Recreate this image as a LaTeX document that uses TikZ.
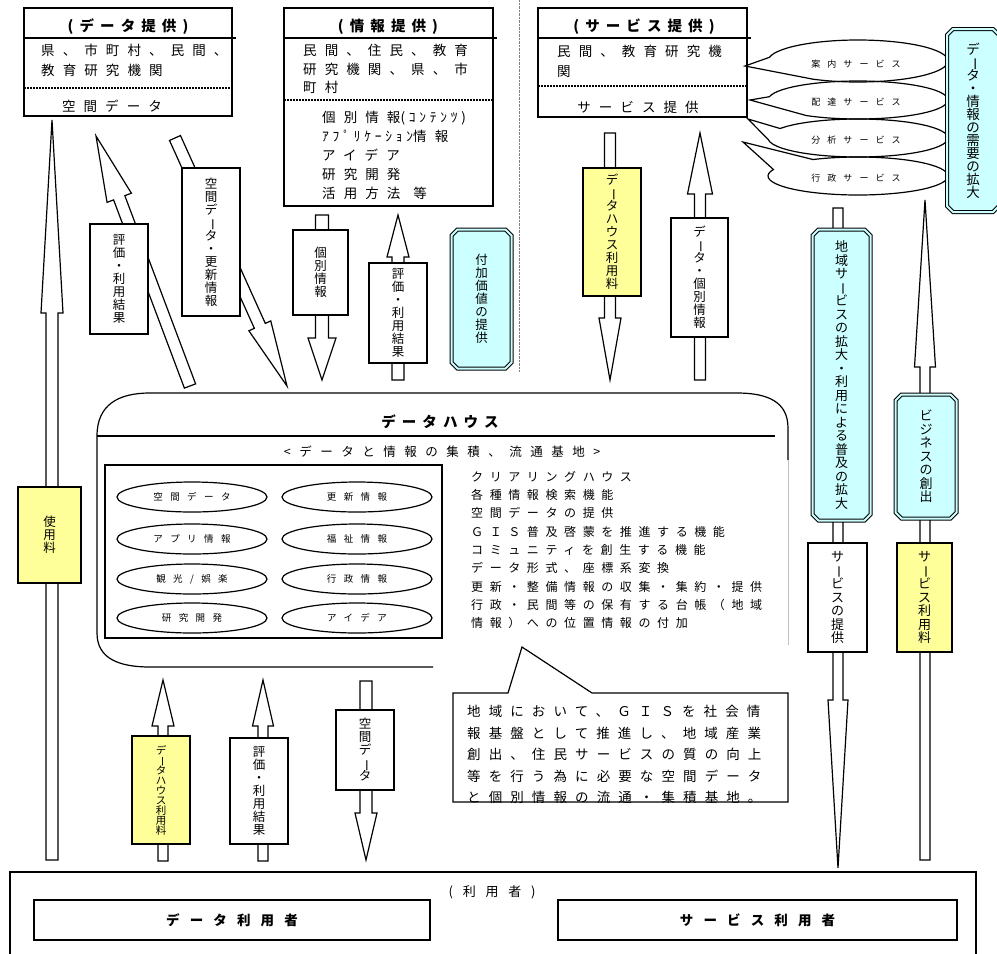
\documentclass[tikz,border=0pt]{standalone}
\usepackage{fontspec}
\usepackage{graphicx}
\usetikzlibrary{calc, shapes.geometric, shapes.misc}
\setmainfont{Noto Sans CJK JP}
\newfontfamily\jpplain{Noto Sans CJK JP}
\newfontfamily\jpwide[LetterSpace=60]{Noto Sans CJK JP}
\newfontfamily\jphalf[LetterSpace=28]{Noto Sans CJK JP}
\newfontfamily\jplist[LetterSpace=55]{Noto Sans CJK JP}
\newfontfamily\jpsub[LetterSpace=68]{Noto Sans CJK JP}
\newfontfamily\jpsmall[LetterSpace=78]{Noto Sans CJK JP}
\newfontfamily\jptitle[LetterSpace=42]{Noto Sans CJK JP}
\newfontfamily\jpuser[LetterSpace=75]{Noto Sans CJK JP}
\definecolor{plancyan}{HTML}{CCFFFF}
\definecolor{planyellow}{HTML}{FFFF99}
\newcommand\vbar{\rotatebox[origin=c]{-90}{ー}}
\newcommand\tightlines{\lineskiplimit=-100pt\lineskip=0pt}
% hollow block arrow: tail, tip, shaft half width, head half width, head length
\newcommand\blockarrow[5]{%
  \path ($(#2)!#5!(#1)$) coordinate (hb);
  \draw[blockarr] (#2) -- ($(hb)!#4!90:(#2)$) -- ($(hb)!#3!90:(#2)$)
    -- ($(#1)!#3!90:(#2)$) -- ($(#1)!#3!-90:(#2)$)
    -- ($(hb)!#3!-90:(#2)$) -- ($(hb)!#4!-90:(#2)$) -- cycle;}

\begin{document}
\begin{tikzpicture}[x=1pt, y=-1pt,
    provbox/.style={draw, line width=1.2pt, inner sep=0pt},
    titletext/.style={font=\jptitle\bfseries\fontsize{14.5}{16}\selectfont, inner sep=0pt},
    bodytext/.style={font=\jpwide\fontsize{13.5}{20}\selectfont\tightlines,
                     align=left, inner sep=0pt, anchor=north west},
    divider/.style={line width=1.2pt},
    dotline/.style={line width=2pt, dash pattern=on 2pt off 1pt},
    labelbox/.style={draw, line width=1.2pt, fill=white, inner sep=0pt, align=center,
                     font=\jpplain\fontsize{12.5}{13}\selectfont\tightlines},
    feebox/.style={labelbox, fill=planyellow},
    cyanbox/.style={labelbox, chamfered rectangle, chamfered rectangle xsep=3pt,
                    chamfered rectangle ysep=3pt, fill=plancyan, double=plancyan,
                    double distance=2pt, line width=1pt},
    blockarr/.style={draw, fill=white, line width=1.2pt},
    houseline/.style={line width=1.2pt},
    houseitem/.style={ellipse, draw, line width=1.2pt, minimum width=150pt,
                      minimum height=30pt, inner sep=0pt,
                      font=\jpsmall\fontsize{9.5}{10}\selectfont},
    cloud/.style={line width=1.2pt},
    cloudtext/.style={font=\jpsmall\fontsize{9}{10}\selectfont, inner sep=0pt},
    userbox/.style={draw, line width=1.2pt, minimum height=40pt, inner sep=0pt,
                    font=\jpuser\bfseries\fontsize{13.5}{15}\selectfont}
  ]
  \useasboundingbox (0,0) rectangle (997,954);
  \clip (0,0) rectangle (997,954);

  % providers
  \node[provbox, minimum width=208pt, minimum height=108pt] (dataprov) at (128,62) {};
  \node[provbox, minimum width=209pt, minimum height=198pt] (infoprov) at (388.5,107) {};
  \node[provbox, minimum width=209pt, minimum height=109pt] (servprov) at (642.5,62.5) {};
  \draw[divider] (24,38) -- (236,38);
  \draw[divider] (284,38) -- (497,38);
  \draw[divider] (538,38) -- (751,38);
  \node[titletext] (dataprovT) at (128,27) {(データ提供)};
  \node[titletext] (infoprovT) at (388,27) {(情報提供)};
  \node[titletext] (servprovT) at (644,27) {(サービス提供)};

  \node[bodytext] (dataprovA) at (41,44) {県、市町村、民間、\\教育研究機関};
  \draw[dotline] (24,88) -- (232,88);
  \node[bodytext, anchor=center] (dataprovB) at (112,106) {空間データ};

  \node[bodytext, font=\jpwide\fontsize{13.5}{18.7}\selectfont\tightlines] (infoprovA)
    at (303,44) {民間、住民、教育\\研究機関、県、市\\町村};
  \draw[dotline] (284,100) -- (493,100);
  \node[bodytext, font=\jpwide\fontsize{13.5}{19}\selectfont\tightlines] (infoprovB)
    at (322,111) {個別情報{\jphalf(ｺﾝﾃﾝﾂ)}\\{\jphalf ｱﾌﾟﾘｹｰｼｮﾝ}情報\\アイデア\\研究開発\\
    活用方法\hspace{13pt}等};

  \node[bodytext] (servprovA) at (557,45) {民間、教育研究機\\関};
  \draw[dotline] (538,86) -- (747,86);
  \node[bodytext, anchor=center] (servprovB) at (638,107) {サービス提供};

  \draw[gray, densely dotted] (519,0) -- (519,372);

  % service clouds
  \coordinate (guideTip) at (745,66);
  \coordinate (deliverTip) at (750,100);
  \coordinate (analyTip) at (748,119);
  \coordinate (adminTip) at (743,142);
  \draw[cloud] (guideTip) -- ($(858,61)+(190:90 and 21)$)
    arc[start angle=190, end angle=480, x radius=90, y radius=21] -- cycle;
  \draw[cloud] (deliverTip) -- ($(858,100)+(190:90 and 19)$)
    arc[start angle=190, end angle=485, x radius=90, y radius=19] -- cycle;
  \draw[cloud] (analyTip) -- ($(858,138)+(210:90 and 19)$)
    arc[start angle=210, end angle=535, x radius=90, y radius=19] -- cycle;
  \draw[cloud] (adminTip) -- ($(858,176)+(240:90 and 19)$)
    arc[start angle=240, end angle=560, x radius=90, y radius=19] -- cycle;
  \node[cloudtext] (guide) at (856,64) {案内サービス};
  \node[cloudtext] (deliver) at (856,102) {配達サービス};
  \node[cloudtext] (analy) at (856,140) {分析サービス};
  \node[cloudtext] (admin) at (856,178) {行政サービス};

  \node[cyanbox, minimum width=52pt, minimum height=183pt,
        font=\jpplain\fontsize{13.5}{13}\selectfont\tightlines] (demand) at (973,120.5)
    {デ\\\vbar\\タ\\・\\情\\報\\の\\需\\要\\の\\拡\\大};

  % flows between providers and the data house
  \coordinate (feeTip) at (52,120); \coordinate (feeTail) at (52,860);
  \blockarrow{feeTail}{feeTip}{6pt}{11pt}{193pt}
  \node[feebox, minimum width=63pt, minimum height=96pt] (usefee) at (49.5,535) {使\\用\\料};

  \coordinate (evalTail) at (190,386); \coordinate (evalTip) at (96,136);
  \blockarrow{evalTail}{evalTip}{6pt}{13pt}{66pt}
  \node[labelbox, minimum width=58pt, minimum height=110pt] (evalUp) at (119,279)
    {評\\価\\・\\利\\用\\結\\果};

  \coordinate (spTail) at (175,138); \coordinate (spTip) at (287,386);
  \blockarrow{spTail}{spTip}{6pt}{12pt}{66pt}
  \node[labelbox, minimum width=58pt, minimum height=148pt] (spatialUpd) at (211,242)
    {空\\間\\デ\\\vbar\\タ\\・\\更\\新\\情\\報};

  \coordinate (indTail) at (322,215); \coordinate (indTip) at (322,380);
  \blockarrow{indTail}{indTip}{6.5pt}{14pt}{42pt}
  \node[labelbox, minimum width=55pt, minimum height=85pt] (indivInfo) at (320.5,272.5)
    {個\\別\\情\\報};

  \coordinate (eval2Tail) at (398,380); \coordinate (eval2Tip) at (398,215);
  \blockarrow{eval2Tail}{eval2Tip}{6pt}{11pt}{42pt}
  \node[labelbox, minimum width=58pt, minimum height=100pt] (evalInfo) at (398,313)
    {評\\価\\・\\利\\用\\結\\果};

  \node[cyanbox, minimum width=60pt, minimum height=139pt] (addValue) at (481.5,299)
    {付\\加\\価\\値\\の\\提\\供};

  \coordinate (dhTail) at (610,133); \coordinate (dhTip) at (610,380);
  \blockarrow{dhTail}{dhTip}{5.5pt}{11pt}{62pt}
  \node[feebox, minimum width=58pt, minimum height=128pt] (houseFeeTop) at (612,232)
    {デ\\\vbar\\タ\\ハ\\ウ\\ス\\利\\用\\料};

  \coordinate (diTail) at (700,380); \coordinate (diTip) at (700,133);
  \blockarrow{diTail}{diTip}{5.5pt}{12.5pt}{61pt}
  \node[labelbox, minimum width=57pt, minimum height=119pt] (dataIndiv) at (699.5,277.5)
    {デ\\\vbar\\タ\\・\\個\\別\\情\\報};

  % service side
  \coordinate (regTail) at (838,208); \coordinate (regTip) at (838,868);
  \blockarrow{regTail}{regTip}{5pt}{10pt}{168pt}
  \node[cyanbox, minimum width=58pt, minimum height=291pt,
        font=\jpplain\fontsize{13}{13.5}\selectfont\tightlines] (regional) at (841.5,375)
    {地\\域\\サ\\\vbar\\ビ\\ス\\の\\拡\\大\\・\\利\\用\\に\\よ\\る\\普\\及\\の\\拡\\大};
  \node[labelbox, minimum width=59pt, minimum height=109pt,
        font=\jpplain\fontsize{13}{13.5}\selectfont\tightlines] (servSupply) at (837.5,597.5)
    {サ\\\vbar\\ビ\\ス\\の\\提\\供};

  \coordinate (bizTail) at (925,860); \coordinate (bizTip) at (925,200);
  \blockarrow{bizTail}{bizTip}{5pt}{10.5pt}{167pt}
  \node[cyanbox, minimum width=61pt, minimum height=124pt,
        font=\jpplain\fontsize{13}{13.5}\selectfont\tightlines] (business) at (926,456.5)
    {ビ\\ジ\\ネ\\ス\\の\\創\\出};
  \node[feebox, minimum width=55pt, minimum height=109pt,
        font=\jpplain\fontsize{13}{13.5}\selectfont\tightlines] (servFee) at (924.5,597.5)
    {サ\\\vbar\\ビ\\ス\\利\\用\\料};

  % data house
  \draw[houseline] (97,436) .. controls (97,405) and (118,393) .. (150,393) -- (737,393)
    .. controls (768,393) and (788,402) .. (788,428) -- (788,460);
  \draw[houseline] (97,436) -- (97,633) .. controls (97,658) and (118,667) .. (150,667)
    -- (433,667);
  \draw[gray!50] (788,460) -- (788,645);
  \draw[houseline] (97,436) -- (775,436);
  \node[titletext] (houseT) at (440,422) {データハウス};
  \node[font=\jpsub\fontsize{12.5}{14}\selectfont, inner sep=0pt] (houseSub) at (442,452)
    {<データと情報の集積、流通基地>};
  \draw[line width=1.5pt] (105,465) rectangle (442,638);
  \node[houseitem] (itemA) at (192,497) {空間データ};
  \node[houseitem] (itemB) at (357,497) {更新情報};
  \node[houseitem] (itemC) at (192,539) {アプリ情報};
  \node[houseitem] (itemD) at (357,539) {福祉情報};
  \node[houseitem] (itemE) at (192,579) {観光/娯楽};
  \node[houseitem] (itemF) at (357,579) {行政情報};
  \node[houseitem] (itemG) at (192,618) {研究開発};
  \node[houseitem] (itemH) at (357,618) {アイデア};
  \node[bodytext, font=\jplist\fontsize{12}{18.3}\selectfont\tightlines] (houseFunc)
    at (471,471) {クリアリングハウス\\各種情報検索機能\\空間データの提供\\
    ＧＩＳ普及啓蒙を推進する機能\\コミュニティを創生する機能\\データ形式、座標系変換\\
    更新・整備情報の収集・集約・提供\\行政・民間等の保有する台帳（地域\\
    情報）への位置情報の付加};

  % callout
  \draw[line width=1.2pt, fill=white] (453,693) -- (508,693) -- (522,647) -- (592,693)
    -- (788,693) -- (788,802) -- (453,802) -- cycle;
  \node[bodytext, font=\jpwide\fontsize{13.5}{21.5}\selectfont\tightlines] (calloutT)
    at (467,705) {地域において、ＧＩＳを社会情\\報基盤として推進し、地域産業\\
    創出、住民サービスの質の向上\\等を行う為に必要な空間データ\\と個別情報の流通・集積基地。};

  % flows between the data house and users
  \coordinate (hfTail) at (163,861); \coordinate (hfTip) at (163,680);
  \blockarrow{hfTail}{hfTip}{5pt}{11pt}{46pt}
  \node[feebox, minimum width=58pt, minimum height=108pt,
        font=\jpplain\fontsize{10.5}{10}\selectfont\tightlines] (houseFeeLow) at (161,790)
    {デ\\\vbar\\タ\\ハ\\ウ\\ス\\利\\用\\料};
  \coordinate (ev3Tail) at (263,861); \coordinate (ev3Tip) at (263,680);
  \blockarrow{ev3Tail}{ev3Tip}{5pt}{10.5pt}{46pt}
  \node[labelbox, minimum width=58pt, minimum height=106pt] (evalLow) at (259,791)
    {評\\価\\・\\利\\用\\結\\果};
  \coordinate (sdTail) at (366,681); \coordinate (sdTip) at (366,860);
  \blockarrow{sdTail}{sdTip}{6pt}{11pt}{47pt}
  \node[labelbox, minimum width=58pt, minimum height=80pt] (spatialLow) at (365,750)
    {空\\間\\デ\\\vbar\\タ};

  % users
  \draw[line width=1.2pt] (10,872) rectangle (976,960);
  \node[font=\jpuser\fontsize{13}{15}\selectfont, inner sep=0pt] (usersT) at (492,892) {(利用者)};
  \node[userbox, minimum width=396pt] (dataUser) at (232,920) {データ利用者};
  \node[userbox, minimum width=399pt] (servUser) at (757.5,920) {サービス利用者};
\end{tikzpicture}
\end{document}
